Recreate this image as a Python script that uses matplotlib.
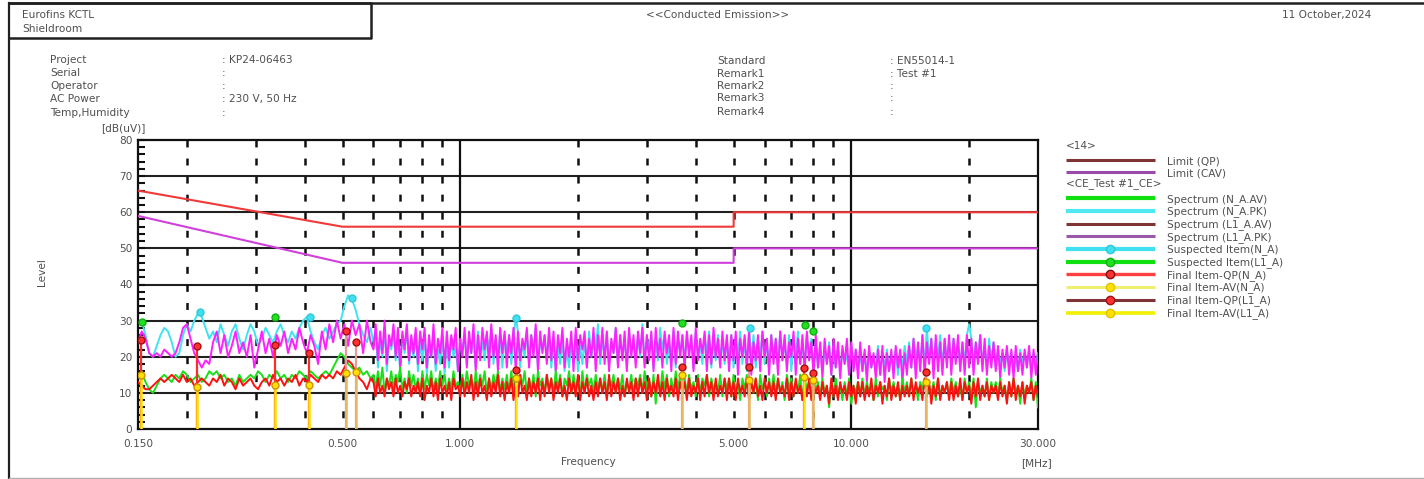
import numpy as np
import matplotlib
matplotlib.use("Agg")
import matplotlib.pyplot as plt
from matplotlib.ticker import NullLocator, MultipleLocator

plt.rcParams['font.family'] = ['DejaVu Sans']
plt.rcParams['lines.scale_dashes'] = False

# ---------------- data ----------------
# Spectra: 63 samples on 0.150-0.590 MHz, then 300 samples on 0.600-30.000 MHz (log spaced)
N_LOW = 63
n_pk = [29, 30, 26, 21, 20, 23, 26, 28, 27, 24, 20, 21, 26, 29, 27, 30, 32, 31, 28, 25,
        27, 24, 29, 26, 23, 27, 29, 25, 22, 26, 29, 27, 23, 25, 28, 26, 24, 27, 29, 26,
        24, 27, 25, 28, 30, 31, 27, 24, 22, 26, 28, 25, 27, 29, 30, 34, 37, 36, 33, 29,
        26, 24, 28,
        24, 27, 17, 25, 20, 28, 16, 24, 22, 27, 19, 25, 16, 26, 21, 28, 18, 24, 20, 26,
        16, 24, 19, 26, 15, 23, 20, 25, 16, 22, 18, 26, 15, 24, 17, 25, 20, 23, 16, 24,
        22, 26, 18, 26, 21, 25, 17, 27, 20, 24, 19, 26, 22, 28, 18, 25, 20, 27, 17, 26,
        21, 26, 18, 25, 31, 27, 17, 24, 20, 27, 18, 26, 21, 28, 17, 24, 22, 26, 19, 27,
        17, 24, 16, 23, 18, 25, 16, 22, 17, 24, 19, 26, 16, 23, 18, 25, 17, 27, 20, 24,
        22, 29, 18, 25, 20, 27, 17, 24, 21, 28, 18, 26, 20, 25, 17, 27, 21, 24, 19, 26,
        20, 29, 18, 26, 21, 26, 17, 25, 19, 28, 22, 26, 18, 24, 20, 27, 17, 25, 21, 26,
        18, 26, 21, 25, 17, 27, 20, 24, 18, 26, 21, 27, 17, 25, 19, 26, 20, 24, 18, 25,
        19, 26, 17, 25, 20, 27, 18, 25, 16, 28, 19, 26, 17, 24, 20, 27, 18, 25, 17, 26,
        20, 25, 17, 27, 19, 24, 18, 26, 16, 25, 20, 27, 18, 24, 17, 26, 19, 25, 16, 24,
        17, 23, 16, 22, 18, 24, 15, 21, 17, 23, 16, 22, 18, 21, 15, 23, 17, 22, 16, 21,
        16, 21, 15, 22, 17, 20, 16, 23, 15, 21, 17, 22, 16, 20, 18, 22, 15, 21, 17, 23,
        18, 24, 17, 25, 19, 23, 18, 26, 17, 28, 19, 25, 18, 24, 20, 26, 17, 25, 19, 24,
        18, 25, 19, 24, 17, 24, 18, 26, 29, 25, 17, 24, 19, 26, 18, 23, 17, 25, 19, 24,
        17, 22, 18, 21, 16, 22, 18, 21, 17, 20, 16, 22, 18, 21, 17, 22, 16, 21, 18, 21]
l1_pk = [24, 27, 25, 21, 20, 21, 20, 22, 21, 20, 21, 24, 28, 29, 25, 21, 19, 17, 19, 18,
         24, 27, 21, 26, 20, 23, 27, 21, 24, 20, 26, 17, 22, 27, 21, 25, 20, 26, 23, 27,
         21, 25, 22, 28, 24, 21, 26, 23, 18, 27, 22, 29, 24, 30, 25, 29, 23, 30, 26, 29,
         21, 30, 24,
         22, 29, 19, 27, 21, 30, 18, 26, 23, 29, 20, 28, 17, 27, 22, 29, 19, 26, 21, 28,
         18, 27, 22, 28, 17, 26, 20, 29, 18, 25, 21, 28, 17, 27, 19, 26, 22, 28, 16, 25,
         20, 28, 17, 27, 21, 29, 16, 26, 19, 28, 22, 27, 17, 29, 20, 26, 16, 28, 21, 27,
         17, 26, 21, 28, 16, 27, 19, 25, 22, 28, 17, 26, 20, 29, 16, 27, 21, 26, 18, 28,
         19, 27, 16, 26, 21, 28, 17, 25, 20, 27, 16, 28, 19, 26, 22, 27, 17, 25, 20, 28,
         16, 26, 20, 28, 18, 27, 16, 25, 21, 28, 17, 26, 19, 27, 16, 28, 20, 26, 17, 27,
         21, 28, 17, 26, 19, 27, 16, 28, 20, 25, 17, 27, 21, 26, 16, 28, 18, 27, 20, 26,
         17, 27, 20, 26, 16, 28, 19, 25, 21, 27, 16, 26, 18, 28, 20, 25, 17, 27, 19, 26,
         16, 26, 19, 27, 15, 25, 20, 26, 17, 27, 15, 24, 19, 26, 16, 27, 20, 25, 15, 26,
         18, 25, 15, 27, 19, 26, 16, 24, 20, 27, 15, 25, 18, 26, 16, 27, 19, 24, 15, 26,
         17, 24, 14, 25, 18, 23, 15, 25, 17, 24, 14, 23, 18, 25, 15, 24, 16, 22, 14, 24,
         16, 22, 13, 23, 17, 21, 14, 22, 15, 23, 13, 21, 16, 22, 14, 23, 17, 22, 13, 21,
         15, 23, 17, 25, 14, 24, 16, 26, 15, 24, 18, 25, 14, 26, 16, 24, 15, 25, 17, 26,
         15, 25, 18, 26, 16, 24, 15, 26, 17, 25, 15, 24, 18, 26, 16, 25, 15, 23, 17, 24,
         16, 23, 14, 22, 17, 23, 15, 22, 14, 23, 16, 21, 15, 22, 17, 23, 14, 22, 15, 21]
n_av = [15, 16, 13, 11, 10, 12, 14, 15, 14, 13, 15, 14, 16, 15, 13, 14, 15, 13, 14, 16,
        15, 16, 14, 15, 13, 14, 12, 15, 13, 14, 15, 14, 16, 15, 13, 15, 14, 16, 14, 15,
        13, 15, 14, 16, 15, 14, 16, 15, 14, 15, 16, 15, 17, 19, 21, 20, 18, 17, 16, 17,
        15, 16, 14,
        15, 11, 16, 12, 17, 10, 14, 12, 16, 11, 15, 13, 17, 11, 14, 10, 16, 12, 15, 11,
        14, 10, 16, 11, 15, 12, 16, 10, 14, 11, 16, 12, 15, 10, 14, 11, 16, 12, 13, 10,
        15, 11, 16, 12, 14, 10, 16, 11, 15, 12, 16, 10, 14, 11, 15, 12, 16, 10, 14, 11,
        15, 10, 16, 11, 14, 9, 15, 12, 16, 10, 14, 11, 15, 9, 16, 12, 14, 10, 15, 11,
        14, 10, 16, 11, 15, 9, 14, 12, 16, 10, 15, 11, 14, 9, 16, 10, 15, 12, 14, 10,
        15, 11, 14, 10, 15, 9, 14, 12, 15, 10, 14, 11, 15, 9, 13, 11, 15, 10, 14, 12,
        15, 10, 16, 11, 14, 9, 15, 7, 14, 10, 16, 11, 15, 9, 14, 10, 16, 11, 15, 12,
        14, 10, 15, 11, 13, 9, 15, 10, 14, 12, 15, 9, 14, 11, 13, 10, 15, 9, 14, 11,
        14, 9, 15, 10, 13, 8, 14, 11, 15, 9, 13, 10, 14, 8, 15, 11, 13, 9, 14, 10,
        15, 9, 14, 10, 13, 8, 15, 11, 14, 9, 13, 10, 15, 8, 14, 11, 13, 9, 15, 10,
        13, 9, 14, 10, 12, 6, 13, 9, 14, 10, 12, 8, 13, 9, 14, 7, 12, 10, 13, 9,
        14, 9, 13, 10, 12, 8, 14, 9, 13, 11, 12, 8, 14, 10, 13, 9, 12, 8, 14, 10,
        13, 9, 14, 10, 12, 8, 13, 11, 14, 9, 12, 10, 13, 8, 14, 9, 12, 10, 13, 9,
        14, 10, 13, 9, 12, 8, 14, 10, 13, 9, 14, 6, 13, 10, 12, 9, 14, 8, 13, 10,
        13, 9, 14, 10, 12, 8, 13, 9, 14, 10, 12, 7, 13, 9, 12, 10, 14, 8, 13, 6]
l1_av = [13, 12, 11, 11, 12, 13, 14, 13, 14, 15, 14, 13, 15, 13, 14, 12, 13, 14, 13, 12,
         14, 13, 15, 12, 14, 13, 11, 14, 12, 13, 14, 12, 11, 13, 14, 12, 15, 13, 14, 12,
         14, 13, 15, 12, 14, 13, 15, 14, 13, 15, 14, 15, 14, 16, 15, 17, 19, 18, 16, 14,
         13, 11, 14,
         13, 9, 14, 10, 12, 9, 14, 11, 13, 9, 14, 10, 12, 9, 13, 11, 14, 9, 12, 10,
         13, 9, 14, 8, 12, 10, 14, 9, 13, 8, 14, 10, 12, 9, 13, 8, 14, 11, 12, 9,
         14, 9, 13, 10, 15, 8, 13, 9, 14, 10, 12, 8, 14, 9, 13, 10, 15, 9, 13, 8,
         13, 10, 14, 8, 13, 9, 15, 10, 12, 8, 14, 9, 13, 10, 14, 8, 13, 9, 15, 10,
         14, 8, 13, 10, 14, 9, 12, 8, 14, 10, 13, 9, 15, 8, 13, 10, 14, 9, 12, 8,
         13, 9, 14, 10, 13, 8, 15, 9, 13, 10, 14, 8, 12, 9, 14, 10, 13, 8, 14, 9,
         14, 10, 13, 8, 14, 9, 13, 10, 15, 9, 13, 8, 14, 10, 12, 9, 14, 8, 13, 10,
         13, 8, 14, 9, 12, 10, 14, 8, 13, 9, 15, 10, 13, 8, 14, 9, 12, 10, 14, 8,
         14, 9, 13, 8, 14, 10, 12, 9, 14, 8, 13, 10, 14, 9, 12, 8, 14, 10, 13, 9,
         13, 8, 14, 10, 12, 9, 14, 8, 13, 9, 14, 10, 12, 8, 13, 9, 14, 8, 12, 10,
         12, 8, 13, 9, 12, 7, 14, 9, 12, 8, 13, 10, 12, 8, 13, 9, 12, 7, 13, 9,
         13, 8, 12, 9, 14, 8, 12, 10, 13, 7, 12, 9, 14, 8, 12, 9, 13, 8, 12, 9,
         12, 9, 14, 8, 13, 10, 12, 8, 14, 9, 13, 7, 12, 9, 14, 8, 12, 10, 13, 8,
         13, 8, 12, 9, 14, 8, 13, 10, 12, 7, 13, 9, 14, 8, 12, 9, 13, 8, 12, 10,
         12, 8, 13, 9, 12, 7, 13, 9, 14, 8, 12, 9, 13, 7, 12, 10, 13, 8, 12, 9]

limit_freq = [0.15, 0.5, 5.0, 5.0, 30.0]
limit_qp = [66, 56, 56, 60, 60]
limit_cav = [59, 46, 46, 50, 50]

susp_n_freq = [0.216, 0.413, 0.528, 1.39, 5.50, 15.5]
susp_n_lvl = [32.4, 31.0, 36.3, 30.7, 28.0, 28.0]
susp_l1_freq = [0.154, 0.336, 3.68, 7.60, 8.00]
susp_l1_lvl = [29.6, 31.0, 29.3, 28.8, 27.0]

final_n_freq = [0.153, 0.212, 0.336, 0.410, 1.39, 7.57]
final_n_qp = [24.6, 23.0, 23.3, 21.0, 16.3, 16.9]
final_n_av = [15.0, 11.6, 12.2, 12.2, 14.1, 14.4]
final_l1_freq = [0.510, 0.540, 3.68, 5.47, 8.00, 15.5]
final_l1_qp = [27.0, 24.0, 17.2, 17.2, 15.5, 15.8]
final_l1_av = [15.5, 15.8, 15.0, 13.6, 13.6, 13.0]

xtick_vals = [0.15, 0.5, 1.0, 5.0, 10.0, 30.0]
xtick_labels = ['0.150', '0.500', '1.000', '5.000', '10.000', '30.000']
dashed_grid = [0.2, 0.3, 0.4, 0.5, 0.6, 0.7, 0.8, 0.9,
               2, 3, 4, 5, 6, 7, 8, 9, 20]
solid_grid = [1.0, 10.0]

legend_items = ['Limit (QP)', 'Limit (CAV)',
                'Spectrum (N_A.AV)', 'Spectrum (N_A.PK)',
                'Spectrum (L1_A.AV)', 'Spectrum (L1_A.PK)',
                'Suspected Item(N_A)', 'Suspected Item(L1_A)',
                'Final Item-QP(N_A)', 'Final Item-AV(N_A)',
                'Final Item-QP(L1_A)', 'Final Item-AV(L1_A)']

# ---------------- figure ----------------
W, H = 1424, 479
fig = plt.figure(figsize=(W / 100, H / 100), dpi=100)


def px_rect(x0, y0, x1, y1):
    return [x0 / W, 1 - y1 / H, (x1 - x0) / W, (y1 - y0) / H]


TXT = '#505050'
FS = 7.6

ax = fig.add_axes(px_rect(138, 140, 1038, 429))
ax.set_xscale('log')
ax.set_xlim(0.15, 30)
ax.set_ylim(0, 80)

# grid
for y in range(10, 80, 10):
    ax.axhline(y, color='#202020', lw=1.5, zorder=1)
for f in dashed_grid:
    ax.plot([f, f], [80, 0], color='#101010', lw=1.8, ls=(0, (5, 8)), zorder=1)
for f in solid_grid:
    ax.plot([f, f], [80, 0], color='#101010', lw=1.6, zorder=1)

n_hi = len(n_pk) - N_LOW
freq = np.concatenate([np.geomspace(0.15, 0.59, N_LOW), np.geomspace(0.60, 30.0, n_hi)])
ax.plot(freq, n_pk, color='#3fe3ee', lw=1.4, zorder=2)
ax.plot(freq, l1_pk, color='#ff20ff', lw=1.4, zorder=3)
ax.plot(freq, n_av, color='#19e019', lw=1.4, zorder=4)
ax.plot(freq, l1_av, color='#ff1010', lw=1.4, zorder=5)

ax.plot(limit_freq, limit_qp, color='#f03a3a', lw=1.5, zorder=6)
ax.plot(limit_freq, limit_cav, color='#d040dc', lw=1.5, zorder=6)

# suspected items
ax.plot(susp_n_freq, susp_n_lvl, 'o', ms=5, color='#40e0f0', mec='#30c8d8', zorder=7)
ax.plot(susp_l1_freq, susp_l1_lvl, 'o', ms=5, color='#20e020', mec='#10b010', zorder=7)

# final items (stems)
ax.vlines(final_n_freq, 0, final_n_qp, color='#ff2a2a', lw=1.6, zorder=8)
ax.vlines(final_l1_freq, 0, final_l1_qp, color='#e89a9a', lw=1.6, zorder=8)
ax.vlines(final_n_freq, 0, final_n_av, color='#ffe600', lw=1.8, zorder=9)
ax.vlines(final_l1_freq, 0, final_l1_av, color='#e8b860', lw=1.8, zorder=9)
ax.plot(final_n_freq, final_n_qp, 'o', ms=5, mfc='#ff3030', mec='#a01010', zorder=10)
ax.plot(final_l1_freq, final_l1_qp, 'o', ms=5, mfc='#ff3030', mec='#a01010', zorder=10)
ax.plot(final_n_freq, final_n_av, 'o', ms=5, mfc='#ffe000', mec='#d09000', zorder=10)
ax.plot(final_l1_freq, final_l1_av, 'o', ms=5, mfc='#ffe000', mec='#d09000', zorder=10)

# axes styling
for s in ax.spines.values():
    s.set_linewidth(1.6)
    s.set_color('#101010')
ax.set_yticks(range(0, 81, 10))
ax.yaxis.set_minor_locator(MultipleLocator(2))
ax.tick_params(axis='y', which='both', direction='in', length=5, width=1.5,
               color='#101010', labelsize=FS, labelcolor=TXT, pad=4)
ax.set_xticks(xtick_vals)
ax.set_xticklabels(xtick_labels)
ax.xaxis.set_minor_locator(NullLocator())
ax.tick_params(axis='x', which='both', length=0, labelsize=FS, labelcolor=TXT, pad=7)

# ---------------- overlay (pixel coordinates) ----------------
ov = fig.add_axes([0, 0, 1, 1])
ov.set_xlim(0, W)
ov.set_ylim(H, 0)
ov.axis('off')
ov.patch.set_alpha(0)


def t(x, y, s, ha='left', **kw):
    ov.text(x, y, s, ha=ha, va='center', fontsize=FS, color=TXT, **kw)


# frame
ov.plot([9, W], [3, 3], color='#202020', lw=1.8)
ov.plot([9, 9], [3, H], color='#202020', lw=1.6)
ov.plot([9, 371, 371, 9], [3, 3, 38, 38], color='#202020', lw=1.8)
ov.plot([9, W], [477.5, 477.5], color='#b0b0b0', lw=1.0)

t(22, 15, 'Eurofins KCTL')
t(22, 29, 'Shieldroom')
t(718, 15, '<<Conducted Emission>>', ha='center')
t(1282, 15, '11 October,2024')

labels_l = ['Project', 'Serial', 'Operator', 'AC Power', 'Temp,Humidity']
values_l = [': KP24-06463', ':', ':', ': 230 V, 50 Hz', ':']
ys_l = [60, 73, 86, 99, 113]
for lab, val, y in zip(labels_l, values_l, ys_l):
    t(50, y, lab)
    t(222, y, val)
labels_r = ['Standard', 'Remark1', 'Remark2', 'Remark3', 'Remark4']
values_r = [': EN55014-1', ': Test #1', ':', ':', ':']
ys_r = [61, 74, 86, 98, 112]
for lab, val, y in zip(labels_r, values_r, ys_r):
    t(717, y, lab)
    t(890, y, val)

t(123, 128, '[dB(uV)]', ha='center')
ov.text(42, 272, 'Level', rotation=90, ha='center', va='center', fontsize=FS, color=TXT)
t(588, 462, 'Frequency', ha='center')
t(1037, 463, '[MHz]', ha='center')

# legend
t(1066, 146, '<14>')
t(1066, 184, '<CE_Test #1_CE>')
leg_y = [159.5, 172, 198, 210.5, 223.5, 236, 248.5, 261.5, 274, 286.5, 299.5, 312.5]
leg_style = [
    dict(color='#7e3434', lw=2.2),
    dict(color='#9a4aa8', lw=2.2),
    dict(color='#10e010', lw=3.0),
    dict(color='#50e8f0', lw=3.0),
    dict(color='#7e3434', lw=2.2),
    dict(color='#9a5aa8', lw=2.2),
    dict(color='#40e0f0', lw=3.0, marker='o', ms=6, mfc='#40e0f0', mec='#30c8d8'),
    dict(color='#10e010', lw=3.0, marker='o', ms=6, mfc='#20e020', mec='#10b010'),
    dict(color='#ff4040', lw=2.4, marker='o', ms=6, mfc='#ff3030', mec='#801010'),
    dict(color='#f0f070', lw=2.2, marker='o', ms=6, mfc='#ffe000', mec='#e0c000'),
    dict(color='#7e3434', lw=2.2, marker='o', ms=6, mfc='#ff3030', mec='#a01010'),
    dict(color='#f0f000', lw=2.6, marker='o', ms=6, mfc='#ffe000', mec='#e0c000'),
]
for lab, y, st in zip(legend_items, leg_y, leg_style):
    st = dict(st)
    ms = st.pop('marker', None)
    ov.plot([1066, 1155], [y, y], solid_capstyle='butt', color=st['color'], lw=st['lw'])
    if ms:
        ov.plot([1110], [y], marker=ms, ms=st['ms'], mfc=st['mfc'], mec=st['mec'], ls='none')
    t(1167, y + 1.5, lab)

fig.savefig('out.png', dpi=100)
